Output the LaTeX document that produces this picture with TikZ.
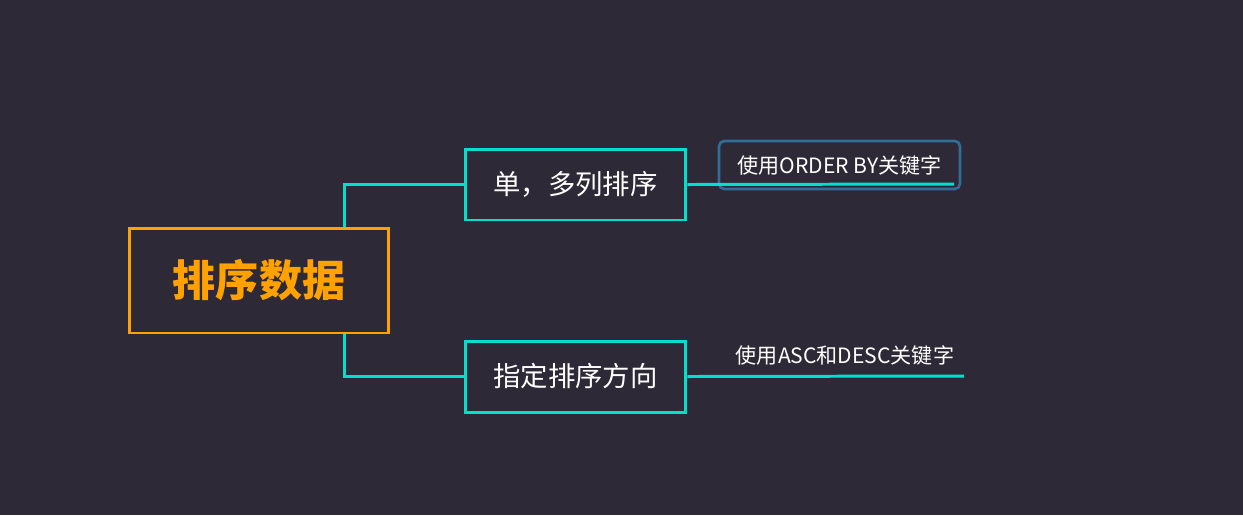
\documentclass[tikz,border=0pt]{standalone}
\usepackage{fontspec}
\setmainfont{Noto Sans CJK SC}
\usetikzlibrary{positioning}
\definecolor{bgdark}{HTML}{2E2936}
\definecolor{rootorange}{HTML}{FFA200}
\definecolor{teal}{HTML}{00E0CC}
\definecolor{leafblue}{HTML}{2F6E98}
\begin{document}
\begin{tikzpicture}[x=0.02cm, y=-0.02cm,
    root/.style={draw=rootorange, line width=1.7pt, minimum width=5.2cm, minimum height=2.1cm, text=rootorange, font=\fontsize{24.5}{26}\selectfont\bfseries},
    topic/.style={draw=teal, line width=1.7pt, minimum width=4.42cm, minimum height=1.42cm, text=white, font=\fontsize{15.6}{17}\selectfont},
    leafbox/.style={draw=leafblue, line width=1.5pt, rounded corners=3pt, minimum width=4.82cm, minimum height=0.96cm, text=white, font=\fontsize{12}{14}\selectfont},
    leaf/.style={text=white, font=\fontsize{12}{14}\selectfont},
    link/.style={draw=teal, line width=1.7pt}
]
    \fill[bgdark] (0,0) rectangle (1243,515);
    \useasboundingbox (0,0) rectangle (1243,515);

    \node[root] (sortdata) at (259,280.5) {排序数据};

    % topics
    \node[topic] (multicol) at (575.5,184.5) {单，多列排序};
    \node[topic] (direction) at (575.5,376.5) {指定排序方向};

    % leaves
    \node[leafbox] (orderby) at (839.5,165) {使用ORDER BY关键字};
    \node[leaf] (ascdesc) at (845,355) {使用ASC和DESC关键字};
    \coordinate (orderbyend) at (954,184);
    \coordinate (ascdescend) at (964,376);

    \draw[link] ([xshift=1.72cm]sortdata.north) |- (multicol.west);
    \draw[link] ([xshift=1.72cm]sortdata.south) |- (direction.west);
    \draw[link] (multicol.east) -- (orderbyend);
    \draw[link] (direction.east) -- (ascdescend);
\end{tikzpicture}
\end{document}
